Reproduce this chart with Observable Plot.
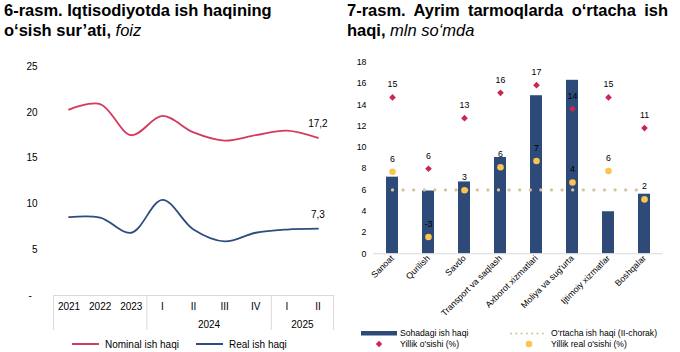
<!DOCTYPE html>
<html>
<head>
<meta charset="utf-8">
<script src="https://cdn.jsdelivr.net/npm/d3@7"></script>
<script src="https://cdn.jsdelivr.net/npm/@observablehq/plot@0.6"></script>
<style>
  html, body { margin: 0; padding: 0; background: #fff; }
  body { font-family: "Liberation Sans", Arial, sans-serif; color: #000; }
  #root { position: relative; width: 680px; height: 352px; overflow: hidden; }
  .title { position: absolute; top: 0; font-size: 16.5px; font-weight: bold; line-height: 20px; }
  .title i { font-weight: normal; }
  .title .ln { white-space: nowrap; height: 20px; }
  .title .j { text-align: justify; text-align-last: justify; white-space: normal; }
  #t1 { left: 4px; width: 330px; }
  #t2 { left: 347px; width: 321px; }
  .panel { position: absolute; }
  #p1 { left: 0; top: 50px; }
  #p2 { left: 340px; top: 50px; }
  .leg { position: absolute; font-size: 10px; line-height: 12px; white-space: nowrap; }
  .leg2 { font-size: 8.6px; line-height: 10px; }
  .sw { position: absolute; }
</style>
</head>
<body>
<div id="root">
  <div class="title" id="t1"><div class="ln">6-rasm. Iqtisodiyotda ish haqining</div><div class="ln">o‘sish sur’ati, <i>foiz</i></div></div>
  <div class="title" id="t2"><div class="ln j">7-rasm. Ayrim tarmoqlarda o‘rtacha ish</div><div class="ln">haqi, <i>mln so‘mda</i></div></div>
  <div class="panel" id="p1"></div>
  <div class="panel" id="p2"></div>
  <div id="legends"></div>
</div>
<script>
// ---- Chart 6 data ----
const periods = ["2021", "2022", "2023", "I", "II", "III", "IV", "I", "II"];
const nominalWage = [20.3, 20.9, 17.5, 19.6, 17.8, 16.9, 17.5, 18.0, 17.2];
const realWage = [8.55, 8.5, 6.85, 10.45, 7.2, 5.9, 6.85, 7.2, 7.3];
const periodGroups = [
  {label: "", start: 0, end: 2},
  {label: "2024", start: 3, end: 6},
  {label: "2025", start: 7, end: 8}
];
const yTicks1 = [0, 5, 10, 15, 20, 25];

// ---- Chart 7 data ----
const sectors = ["Sanoat", "Qurilish", "Savdo", "Transport va saqlash", "Axborot xizmatlari", "Moliya va sug'urta", "Ijtimoiy xizmatlar", "Boshqalar"];
const sectorWage = [7.2, 5.9, 6.75, 9.05, 14.85, 16.3, 3.95, 5.6];
const growthNominal = [15.4, 6.1, 12.7, 16.0, 17.0, 13.9, 15.4, 11.4];
const growthReal = [5.7, -2.8, 3.3, 6.3, 7.1, 4.3, 5.8, 2.1];
const averageWage = 6.0;
const yTicks2 = [0, 2, 4, 6, 8, 10, 12, 14, 16, 18];
const growthAxisDomain = [-5, 20]; // hidden secondary axis

const C = {
  nominal: "#d4395e", real: "#2e4c7e", bar: "#2d4a78",
  diamond: "#c8284f", yellow: "#fbc44e", avg: "#d6c3a0", grid: "#d9d9d9"
};
const FONT = '"Liberation Sans", Arial, sans-serif';

// ---------- Chart 6 ----------
const rows1 = periods.map((p, i) => ({i, period: p, nominal: nominalWage[i], real: realWage[i]}));
const last1 = rows1[rows1.length - 1];
const boundaries = [periodGroups[0].start - 0.5, ...periodGroups.map(g => g.end + 0.5)];
const fmt = v => v.toFixed(1).replace(".", ",");

const chart1 = Plot.plot({
  width: 340, height: 285,
  marginTop: 16, marginBottom: 40, marginLeft: 53, marginRight: 7,
  style: {fontFamily: FONT, fontSize: "10px", color: "#000", background: "transparent"},
  x: {type: "linear", domain: [-0.5, periods.length - 0.5], axis: null},
  y: {domain: [0, 25], ticks: yTicks1, tickSize: 0, tickPadding: 16, label: null,
      tickFormat: d => d === 0 ? "-\u00a0\u00a0" : String(d)},
  marks: [
    Plot.ruleY([0], {stroke: C.grid, strokeWidth: 1}),
    Plot.ruleX(boundaries, {x: d => d, y1: 0, y2: 0, insetBottom: -35, stroke: C.grid, strokeWidth: 1}),
    Plot.text(rows1, {x: "i", y: 0, text: "period", dy: 11, fontSize: 10}),
    Plot.text(periodGroups.filter(g => g.label), {x: g => (g.start + g.end) / 2, y: 0, text: "label", dy: 29, fontSize: 10}),
    Plot.line(rows1, {x: "i", y: "nominal", curve: "catmull-rom", stroke: C.nominal, strokeWidth: 1.8}),
    Plot.line(rows1, {x: "i", y: "real", curve: "catmull-rom", stroke: C.real, strokeWidth: 1.8}),
    Plot.text([last1], {x: "i", y: "nominal", text: d => fmt(d.nominal), dy: -14, fontSize: 10}),
    Plot.text([last1], {x: "i", y: "real", text: d => fmt(d.real), dy: -14, fontSize: 10})
  ]
});
document.getElementById("p1").appendChild(chart1);

// ---------- Chart 7 ----------
const growthScale = d3.scaleLinear(growthAxisDomain, [0, 18]);
const rows2 = sectors.map((s, i) => ({
  sector: s, wage: sectorWage[i], nominal: growthNominal[i], real: growthReal[i], avg: averageWage
}));

const chart2 = Plot.plot({
  width: 340, height: 275,
  marginTop: 11.7, marginBottom: 71.7, marginLeft: 33, marginRight: 17,
  style: {fontFamily: FONT, fontSize: "8.8px", color: "#000", background: "transparent"},
  x: {domain: sectors, paddingInner: 0.67, paddingOuter: 0.335, tickRotate: -45, tickSize: 0, tickPadding: 3, label: null},
  y: {domain: [0, 18], ticks: yTicks2, tickSize: 0, tickPadding: 7, label: null},
  marks: [
    Plot.barY(rows2, {x: "sector", y: "wage", fill: C.bar}),
    Plot.ruleY([0], {stroke: C.grid, strokeWidth: 1}),
    Plot.line(rows2, {x: "sector", y: "avg", stroke: C.avg, strokeWidth: 3.3, strokeDasharray: "0,10.6", strokeLinecap: "round"}),
    Plot.dot(rows2, {x: "sector", y: d => growthScale(d.nominal), symbol: "diamond2", r: 3, fill: C.diamond}),
    Plot.dot(rows2, {x: "sector", y: d => growthScale(d.real), r: 3.3, fill: C.yellow}),
    Plot.text(rows2, {x: "sector", y: d => growthScale(d.nominal), text: d => String(Math.round(d.nominal)), dy: -13, fontSize: 8.8}),
    Plot.text(rows2, {x: "sector", y: d => growthScale(d.real), text: d => String(Math.round(d.real)), dy: -13, fontSize: 8.8})
  ]
});
document.getElementById("p2").appendChild(chart2);

// ---------- Legends ----------
const leg = document.getElementById("legends");
function add(html) { leg.insertAdjacentHTML("beforeend", html); }
// Chart 6 legend
add(`<svg class="sw" style="left:72px;top:340px" width="27" height="8"><line x1="0" x2="27" y1="4" y2="4" stroke="${C.nominal}" stroke-width="2"/></svg>`);
add(`<div class="leg" style="left:105px;top:339px">Nominal ish haqi</div>`);
add(`<svg class="sw" style="left:196px;top:340px" width="27" height="8"><line x1="0" x2="27" y1="4" y2="4" stroke="${C.real}" stroke-width="2"/></svg>`);
add(`<div class="leg" style="left:229px;top:339px">Real ish haqi</div>`);
// Chart 7 legend
add(`<svg class="sw" style="left:361px;top:331px" width="36" height="5"><rect x="0" y="0" width="36" height="4.5" fill="${C.bar}"/></svg>`);
add(`<div class="leg leg2" style="left:400px;top:328px">Sohadagi ish haqi</div>`);
add(`<svg class="sw" style="left:509px;top:330px" width="36" height="7"><line x1="2" x2="34" y1="3.5" y2="3.5" stroke="${C.avg}" stroke-width="2.2" stroke-dasharray="0,5.3" stroke-linecap="round"/></svg>`);
add(`<div class="leg leg2" style="left:551px;top:328px">O‘rtacha ish haqi (II-chorak)</div>`);
add(`<svg class="sw" style="left:375px;top:340px" width="8" height="8"><path d="M4,0.8L7.2,4L4,7.2L0.8,4Z" fill="${C.diamond}"/></svg>`);
add(`<div class="leg leg2" style="left:400px;top:339px">Yillik o'sishi (%)</div>`);
add(`<svg class="sw" style="left:525px;top:340px" width="8" height="8"><circle cx="4" cy="4" r="3.3" fill="${C.yellow}"/></svg>`);
add(`<div class="leg leg2" style="left:551px;top:339px">Yillik real o'sishi (%)</div>`);
</script>
</body>
</html>
